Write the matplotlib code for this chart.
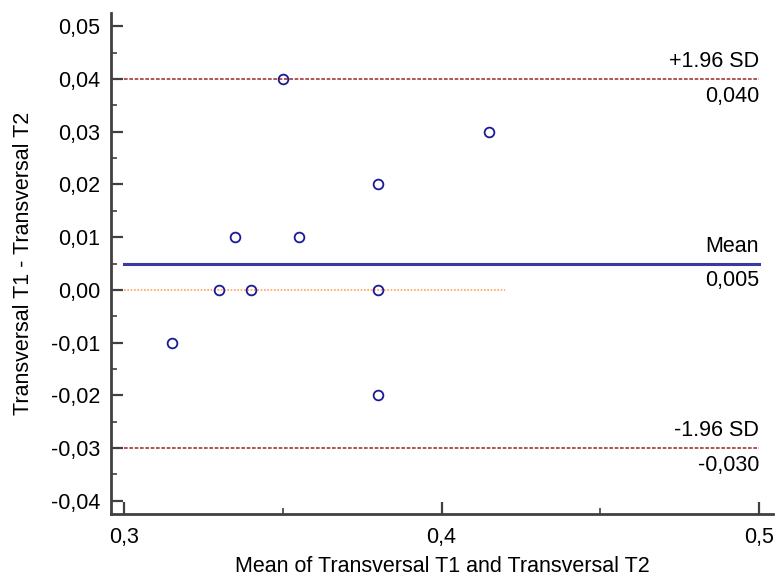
import matplotlib
matplotlib.use('Agg')
import matplotlib.pyplot as plt
from matplotlib.ticker import FuncFormatter, MultipleLocator

plt.rcParams['font.family'] = ['Liberation Sans', 'DejaVu Sans']

# data: mean of T1/T2 (x) and difference T1 - T2 (y)
mean_t = [0.315, 0.33, 0.335, 0.34, 0.35, 0.355, 0.38, 0.38, 0.38, 0.415]
diff_t = [-0.01, 0.00, 0.01, 0.00, 0.04, 0.01, 0.02, 0.00, -0.02, 0.03]

mean_diff = 0.005
upper_loa = 0.040
lower_loa = -0.030
line_x = [0.3, 0.5]
zero_x = [0.3, 0.42]

fig = plt.figure(figsize=(7.79, 5.78), dpi=100)
ax = fig.add_axes([0.1425, 0.1107, 0.8498, 0.8668])

spine_col = '#404040'
fs = 15.5

# reference lines
ax.plot(zero_x, [0, 0], color='#ffa060', lw=1.2, linestyle=(0, (1, 1)))
ax.plot(line_x, [mean_diff, mean_diff], color='#3a3aa0', lw=2.2)
ax.plot(line_x, [upper_loa, upper_loa], color='#a03838', lw=1.2, linestyle=(0, (2.2, 1.0)))
ax.plot(line_x, [lower_loa, lower_loa], color='#a03838', lw=1.2, linestyle=(0, (2.2, 1.0)))

# points
ax.plot(mean_t, diff_t, linestyle='none', marker='o', markersize=7,
        markerfacecolor='none', markeredgecolor='#1a1a99', markeredgewidth=1.3)

# labels on the lines
def lab(y, top, bottom):
    ax.annotate(top, (0.5, y), xytext=(0, 5), textcoords='offset points',
                ha='right', va='bottom', fontsize=fs)
    ax.annotate(bottom, (0.5, y), xytext=(0, -5), textcoords='offset points',
                ha='right', va='top', fontsize=fs)

lab(upper_loa, '+1.96 SD', '0,040')
lab(mean_diff, 'Mean', '0,005')
lab(lower_loa, '-1.96 SD', '-0,030')

ax.set_xlim(0.2959, 0.5044)
ax.set_ylim(-0.0425, 0.0525)

ax.xaxis.set_major_locator(MultipleLocator(0.1))
ax.xaxis.set_minor_locator(MultipleLocator(0.05))
ax.yaxis.set_major_locator(MultipleLocator(0.01))
ax.yaxis.set_minor_locator(MultipleLocator(0.005))

def fmt(nd):
    def f(v, pos):
        if abs(v) < 1e-9:
            v = 0.0
        return ('%.*f' % (nd, v)).replace('.', ',')
    return FuncFormatter(f)

ax.xaxis.set_major_formatter(fmt(1))
ax.yaxis.set_major_formatter(fmt(2))

for s in ['top', 'right']:
    ax.spines[s].set_visible(False)
for s in ['left', 'bottom']:
    ax.spines[s].set_color(spine_col)
    ax.spines[s].set_linewidth(2)

ax.tick_params(which='major', direction='in', length=8.6, width=1.6, color=spine_col,
               labelsize=fs, pad=8)
ax.tick_params(which='minor', direction='in', length=4.3, width=1.2, color=spine_col)
ax.tick_params(axis='x', which='major', pad=9)

ax.set_xlabel('Mean of Transversal T1 and Transversal T2', fontsize=fs, labelpad=6)
ax.set_ylabel('Transversal T1 - Transversal T2', fontsize=fs, labelpad=12)

fig.savefig('out.png', dpi=100)
